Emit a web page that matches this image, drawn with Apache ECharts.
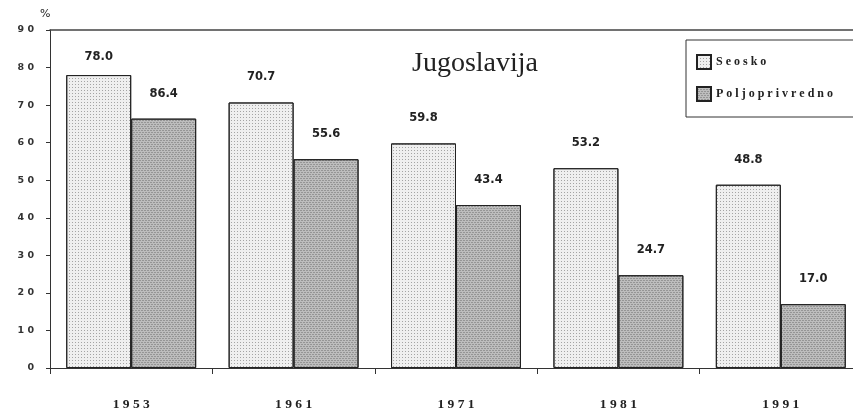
<!DOCTYPE html>
<html>
<head>
<meta charset="utf-8">
<script src="https://cdn.jsdelivr.net/npm/echarts@6/dist/echarts.min.js"></script>
<style>html,body{margin:0;padding:0;background:#fff}#c{width:853px;height:418px}</style>
</head>
<body>
<div id="c"></div>
<script>
var years = ['1953', '1961', '1971', '1981', '1991'];
var seosko = [78.0, 70.7, 59.8, 53.2, 48.8];
var poljoprivredno = [66.4, 55.6, 43.4, 24.7, 17.0];
var seoskoLabels = ['78.0', '70.7', '59.8', '53.2', '48.8'];
var poljoLabels = ['86.4', '55.6', '43.4', '24.7', '17.0'];
var seriesNames = ['Seosko', 'Poljoprivredno'];
var titleText = 'Jugoslavija';

function spaced(s, sep) { return String(s).split('').join(sep); }

var labelStyle = {fontFamily: 'DejaVu Sans', fontWeight: 'bold', fontSize: 11.5, color: '#222'};

var seoskoData = seosko.map(function (v, i) {
  var item = {value: v};
  if (i === 0) item.label = {distance: 12};
  return item;
});

var chart = echarts.init(document.getElementById('c'), null, {renderer: 'canvas'});
chart.setOption({
  backgroundColor: '#fff',
  animation: false,
  title: {
    text: titleText, left: 470, top: 45, textAlign: 'center',
    textStyle: {fontFamily: 'Liberation Serif', fontWeight: 'normal', fontSize: 28, color: '#222'}
  },
  legend: {
    orient: 'vertical', left: 686, top: 40, width: 200,
    padding: [14, 60, 15, 10], itemGap: 16,
    borderColor: '#333', borderWidth: 1,
    itemWidth: 14, itemHeight: 14,
    icon: 'rect',
    data: seriesNames,
    formatter: function (n) { return spaced(n, ' '); },
    textStyle: {fontFamily: 'Liberation Serif', fontWeight: 'bold', fontSize: 12, color: '#222'}
  },
  grid: {left: 50, width: 812, top: 30, height: 338, outerBoundsMode: 'none', containLabel: false},
  xAxis: [{
    type: 'category', data: years, position: 'bottom',
    axisLine: {lineStyle: {color: '#333', width: 1}},
    axisTick: {show: true, length: 6, lineStyle: {color: '#333'}},
    axisLabel: {margin: 30, fontFamily: 'Liberation Serif', fontWeight: 'bold', fontSize: 13.5, color: '#222',
      formatter: function (v) { return spaced(v, ' '); }}
  }, {
    type: 'category', data: years, position: 'top',
    axisLine: {lineStyle: {color: '#444', width: 1.5}},
    axisTick: {show: false}, axisLabel: {show: false}
  }],
  yAxis: {
    type: 'value', min: 0, max: 90, interval: 10,
    name: '%', nameGap: 10, nameTextStyle: {fontFamily: 'DejaVu Sans', fontSize: 11, color: '#222', align: 'left', padding: [0, 0, 0, -10]},
    axisLine: {show: true, lineStyle: {color: '#333'}},
    axisTick: {show: true, length: 4, lineStyle: {color: '#333'}},
    splitLine: {show: false},
    axisLabel: {margin: 16, fontFamily: 'DejaVu Sans', fontWeight: 'bold', fontSize: 9.5, color: '#333',
      formatter: function (v) { return spaced(v, ' '); }}
  },
  series: [{
    name: seriesNames[0], type: 'bar', data: seoskoData, barWidth: '40%', barGap: '0%',
    itemStyle: {color: '#efefef', borderColor: '#222', borderWidth: 1,
      decal: {symbol: 'rect', symbolSize: 1, color: 'rgba(90,90,90,0.5)', dashArrayX: [1, 2], dashArrayY: [1, 2]}},
    label: Object.assign({show: true, position: 'top', distance: 19,
      formatter: function (p) { return seoskoLabels[p.dataIndex]; }}, labelStyle)
  }, {
    name: seriesNames[1], type: 'bar', data: poljoprivredno, barWidth: '40%', barGap: '0%',
    itemStyle: {color: '#bdbdbd', borderColor: '#222', borderWidth: 1,
      decal: {symbol: 'circle', symbolSize: 1, color: 'rgba(40,40,40,0.7)', dashArrayX: [[2, 1], [0, 1, 2, 0]], dashArrayY: [1, 1]}},
    label: Object.assign({show: true, position: 'top', distance: 19,
      formatter: function (p) { return poljoLabels[p.dataIndex]; }}, labelStyle)
  }]
});
</script>
</body>
</html>
